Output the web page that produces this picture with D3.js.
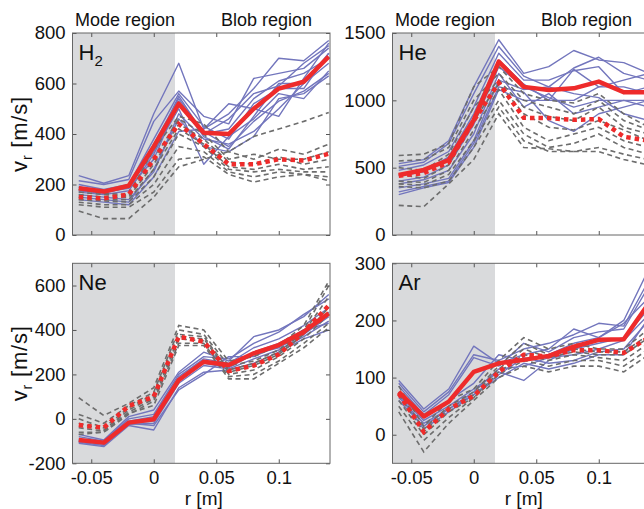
<!DOCTYPE html>
<html>
<head>
<meta charset="utf-8">
<script src="https://cdn.jsdelivr.net/npm/d3@7"></script>
<style>
	body { margin: 0; background: #fff; }
	svg { font-family: "Liberation Sans", Arial, Helvetica, sans-serif; display: block; }
</style>
</head>
<body>
<div id="box"></div>
<script>
// radial positions (m)
const rPos = [-0.06, -0.04, -0.02, 0, 0.02, 0.04, 0.06, 0.08, 0.1, 0.12, 0.14];
const xTicks = [-0.05, 0, 0.05, 0.1];
const modeEdge = 0.017;

// H2
const h2Blue = [
	[235, 205, 235, 480, 680, 420, 480, 580, 700, 690, 770],
	[215, 200, 220, 450, 570, 470, 440, 620, 640, 660, 740],
	[200, 180, 200, 380, 560, 430, 380, 520, 580, 580, 720],
	[190, 175, 195, 340, 550, 400, 420, 540, 610, 640, 700],
	[180, 170, 185, 300, 530, 390, 340, 470, 600, 600, 680],
	[175, 165, 190, 330, 500, 280, 390, 460, 560, 540, 650],
	[170, 160, 175, 320, 520, 410, 350, 450, 530, 570, 640],
	[160, 150, 140, 250, 480, 380, 360, 410, 500, 600, 720],
	[150, 140, 130, 260, 460, 350, 330, 390, 540, 560, 630],
	[140, 130, 120, 230, 410, 420, 520, 500, 470, 620, 760],
	[190, 170, 200, 360, 540, 400, 460, 560, 590, 680, 750],
];
const h2Gray = [
	[180, 165, 160, 340, 470, 440, 330, 300, 340, 320, 360],
	[170, 160, 155, 300, 460, 400, 300, 320, 300, 300, 330],
	[160, 150, 150, 280, 440, 380, 290, 280, 310, 280, 300],
	[150, 140, 140, 260, 420, 360, 270, 260, 280, 260, 270],
	[140, 135, 130, 230, 400, 350, 260, 250, 260, 250, 250],
	[130, 120, 120, 200, 350, 330, 250, 230, 250, 240, 230],
	[120, 110, 110, 170, 300, 310, 240, 210, 230, 240, 215],
	[95, 65, 65, 150, 270, 300, 330, 390, 420, 450, 485],
];
const h2MeanBlue = [185, 172, 195, 350, 520, 405, 400, 500, 580, 607, 707];
const h2MeanGray = [150, 145, 160, 300, 440, 360, 280, 280, 300, 295, 322];

// He
const heBlue = [
	[530, 560, 700, 1100, 1450, 1200, 1250, 1370, 1300, 1280, 1200],
	[510, 540, 680, 1050, 1400, 1180, 1100, 1240, 1320, 1200, 1150],
	[480, 520, 620, 950, 1350, 1150, 1150, 1220, 1250, 1050, 1100],
	[440, 470, 580, 900, 1300, 1120, 1000, 1230, 1100, 1100, 1050],
	[400, 430, 520, 820, 1250, 1100, 1020, 950, 1000, 1000, 1000],
	[380, 410, 480, 750, 1200, 950, 1050, 900, 950, 1000, 950],
	[350, 380, 420, 700, 1150, 1080, 1100, 1050, 1020, 900, 850],
	[320, 360, 400, 680, 1100, 1060, 850, 770, 900, 950, 1000],
	[300, 350, 390, 650, 1080, 1000, 1000, 1000, 1100, 1150, 1200],
];
const heGray = [
	[590, 600, 680, 1100, 1250, 1050, 1000, 980, 1050, 900, 800],
	[550, 560, 650, 1000, 1200, 1000, 950, 900, 1000, 850, 780],
	[500, 480, 600, 950, 1150, 950, 880, 850, 950, 800, 750],
	[450, 420, 520, 850, 1120, 900, 800, 780, 850, 780, 700],
	[400, 390, 480, 780, 1080, 800, 700, 750, 800, 700, 650],
	[380, 370, 450, 700, 1000, 750, 650, 680, 750, 650, 600],
	[360, 350, 400, 650, 950, 700, 620, 620, 650, 600, 560],
	[220, 210, 380, 560, 900, 650, 640, 620, 620, 560, 520],
];
const heMeanBlue = [445, 483, 557, 854, 1287, 1100, 1077, 1089, 1139, 1060, 1060];
const heMeanGray = [440, 460, 540, 850, 1130, 870, 868, 855, 861, 730, 700];

// Ne
const neBlue = [
	[-70, -95, 10, 40, 210, 300, 260, 370, 400, 460, 560],
	[-80, -100, 0, 20, 200, 280, 270, 340, 390, 470, 540],
	[-90, -105, -10, 10, 190, 270, 250, 320, 360, 420, 500],
	[-95, -110, -15, 0, 180, 260, 240, 300, 340, 400, 480],
	[-100, -115, -20, -10, 170, 250, 230, 290, 320, 380, 460],
	[-105, -120, -25, -20, 160, 240, 225, 270, 310, 370, 440],
	[-110, -125, -30, -50, 140, 210, 220, 250, 300, 360, 400],
	[-100, -110, -20, -30, 130, 200, 280, 280, 330, 400, 430],
];
const neGray = [
	[95, 15, 70, 140, 420, 400, 260, 280, 330, 420, 620],
	[20, -20, 60, 120, 400, 380, 240, 260, 310, 400, 600],
	[0, -40, 50, 110, 380, 370, 220, 250, 300, 390, 550],
	[-20, -50, 40, 100, 370, 360, 210, 240, 290, 380, 500],
	[-40, -55, 30, 90, 360, 350, 200, 220, 280, 360, 470],
	[-60, -60, 20, 80, 340, 340, 190, 200, 260, 340, 430],
	[-70, -60, 25, 60, 330, 330, 180, 180, 250, 320, 410],
];
const neMeanBlue = [-95, -107, -17, -2, 175, 257, 242, 295, 332, 392, 475];
const neMeanGray = [-28, -40, 58, 100, 370, 347, 215, 240, 290, 390, 510];

// Ar
const arBlue = [
	[95, 45, 80, 155, 125, 140, 150, 185, 170, 200, 290],
	[90, 40, 75, 140, 130, 150, 160, 175, 195, 190, 270],
	[85, 35, 70, 135, 120, 160, 145, 170, 180, 185, 260],
	[75, 30, 60, 90, 140, 130, 140, 160, 170, 195, 240],
	[70, 25, 50, 80, 110, 95, 130, 150, 160, 170, 220],
	[65, 20, 45, 75, 115, 120, 135, 140, 150, 165, 210],
	[60, 15, 45, 70, 105, 135, 125, 130, 145, 150, 200],
	[70, 10, 40, 70, 100, 125, 115, 125, 140, 140, 205],
];
const arGray = [
	[85, 15, 60, 80, 130, 170, 150, 160, 150, 150, 185],
	[75, 10, 50, 75, 120, 160, 140, 150, 145, 145, 175],
	[70, 5, 45, 70, 115, 150, 135, 145, 140, 140, 170],
	[60, 0, 40, 65, 110, 140, 130, 140, 135, 130, 160],
	[50, -10, 30, 65, 105, 130, 120, 130, 130, 120, 150],
	[40, -30, 20, 60, 100, 120, 110, 120, 120, 110, 140],
];
const arMeanBlue = [75, 32, 58, 110, 125, 131, 138, 154, 166, 167, 230];
const arMeanGray = [72, 5, 45, 68, 110, 140, 137, 148, 148, 143, 170];

const panels = [
	{ name: 'H', sub: '2', blue: h2Blue, gray: h2Gray, mb: h2MeanBlue, mg: h2MeanGray,
		yDomain: [0, 800], yTicks: [0, 200, 400, 600, 800], col: 0, row: 0 },
	{ name: 'He', sub: '', blue: heBlue, gray: heGray, mb: heMeanBlue, mg: heMeanGray,
		yDomain: [0, 1500], yTicks: [0, 500, 1000, 1500], col: 1, row: 0 },
	{ name: 'Ne', sub: '', blue: neBlue, gray: neGray, mb: neMeanBlue, mg: neMeanGray,
		yDomain: [-200, 700], yTicks: [-200, 0, 200, 400, 600], col: 0, row: 1 },
	{ name: 'Ar', sub: '', blue: arBlue, gray: arGray, mb: arMeanBlue, mg: arMeanGray,
		yDomain: [-50, 300], yTicks: [0, 100, 200, 300], col: 1, row: 1 },
];

const width = 644;
const height = 509;
const colLeft = [72.5, 392.5];
const panelW = 257.5;
const rowTop = [33, 263.3];
const rowH = [202, 200];

const fmt = d => d === 0 ? '0' : String(d);

const svg = d3.select('#box').append('svg')
	.attr('width', width)
	.attr('height', height)
	.attr('viewBox', [0, 0, width, height]);

panels.forEach((p, k) => {
	const x0 = colLeft[p.col];
	const y0 = rowTop[p.row];
	const panelH = rowH[p.row];
	const xScale = d3.scaleLinear([-0.065, 0.141], [x0, x0 + panelW]);
	const yScale = d3.scaleLinear(p.yDomain, [y0 + panelH, y0]);

	const clipId = 'clip' + k;
	svg.append('clipPath').attr('id', clipId)
		.append('rect')
		.attr('x', x0).attr('y', y0)
		.attr('width', panelW).attr('height', panelH);

	const g = svg.append('g');

	// mode region shading
	g.append('rect')
		.attr('x', x0)
		.attr('y', y0)
		.attr('width', xScale(modeEdge) - x0)
		.attr('height', panelH)
		.attr('fill', '#d9dadc');

	const line = d3.line()
		.x((_, i) => xScale(rPos[i]))
		.y(d => yScale(d));

	const lines = g.append('g').attr('clip-path', `url(#${clipId})`);

	for (const s of p.blue) {
		lines.append('path')
			.attr('d', line(s))
			.attr('fill', 'none')
			.attr('stroke', '#7376bd')
			.attr('stroke-width', 1.4)
			.attr('stroke-linejoin', 'round');
	}
	for (const s of p.gray) {
		lines.append('path')
			.attr('d', line(s))
			.attr('fill', 'none')
			.attr('stroke', '#6d6d6d')
			.attr('stroke-width', 1.6)
			.attr('stroke-dasharray', '5,3.5');
	}
	lines.append('path')
		.attr('d', line(p.mb))
		.attr('fill', 'none')
		.attr('stroke', '#ee2b2b')
		.attr('stroke-width', 4.5)
		.attr('stroke-linejoin', 'round');
	lines.append('path')
		.attr('d', line(p.mg))
		.attr('fill', 'none')
		.attr('stroke', '#ee2b2b')
		.attr('stroke-width', 4.5)
		.attr('stroke-dasharray', '4.5,4');

	// axes, ticks pointing inwards
	const yAxis = d3.axisLeft(yScale).tickValues(p.yTicks).tickSize(-4).tickPadding(7).tickFormat(fmt);
	const xAxis = d3.axisBottom(xScale).tickValues(xTicks).tickSize(-4).tickPadding(8)
		.tickFormat(p.row === 1 ? fmt : () => '');

	const styleAxis = a => {
		a.select('.domain').remove();
		a.selectAll('.tick line').attr('stroke', '#555');
		a.selectAll('.tick text').attr('fill', '#111').attr('font-size', 18.5)
			.attr('font-family', '"Liberation Sans", Arial, sans-serif');
	};

	g.append('g').attr('transform', `translate(${x0},0)`).call(yAxis).call(styleAxis);
	g.append('g').attr('transform', `translate(0,${y0 + panelH})`).call(xAxis).call(styleAxis);
	g.append('g').attr('transform', `translate(0,${y0})`)
		.call(d3.axisTop(xScale).tickValues(xTicks).tickSize(-4).tickFormat(() => ''))
		.call(styleAxis);
	g.append('g').attr('transform', `translate(${x0 + panelW},0)`)
		.call(d3.axisRight(yScale).tickValues(p.yTicks).tickSize(-4).tickFormat(() => ''))
		.call(styleAxis);

	g.append('rect')
		.attr('x', x0).attr('y', y0)
		.attr('width', panelW).attr('height', panelH)
		.attr('fill', 'none')
		.attr('stroke', '#666')
		.attr('stroke-width', 1);

	// gas label
	const lab = g.append('text')
		.attr('x', x0 + 6)
		.attr('y', y0 + 27)
		.attr('font-size', 22)
		.attr('fill', '#111')
		.text(p.name);
	if (p.sub) {
		lab.append('tspan').attr('dy', 6).attr('font-size', 15).text(p.sub);
	}

	if (p.row === 0) {
		g.append('text')
			.attr('x', x0 + 52.5)
			.attr('y', 26)
			.attr('text-anchor', 'middle')
			.attr('font-size', 18)
			.attr('fill', '#111')
			.text('Mode region');
		g.append('text')
			.attr('x', x0 + 194)
			.attr('y', 26)
			.attr('text-anchor', 'middle')
			.attr('font-size', 18)
			.attr('fill', '#111')
			.text('Blob region');
	} else {
		g.append('text')
			.attr('x', xScale(0.04))
			.attr('y', 505)
			.attr('text-anchor', 'middle')
			.attr('font-size', 19)
			.attr('fill', '#111')
			.text('r [m]');
	}

	if (p.col === 0) {
		const cy = y0 + panelH / 2;
		const t = g.append('text')
			.attr('transform', `translate(27,${cy}) rotate(-90)`)
			.attr('text-anchor', 'middle')
			.attr('font-size', 22)
			.attr('letter-spacing', 0.8)
			.attr('fill', '#111');
		t.append('tspan').text('v');
		t.append('tspan').attr('dy', 5).attr('font-size', 14).text('r');
		t.append('tspan').attr('dy', -5).text(' [m/s]');
	}
});
</script>
</body>
</html>
